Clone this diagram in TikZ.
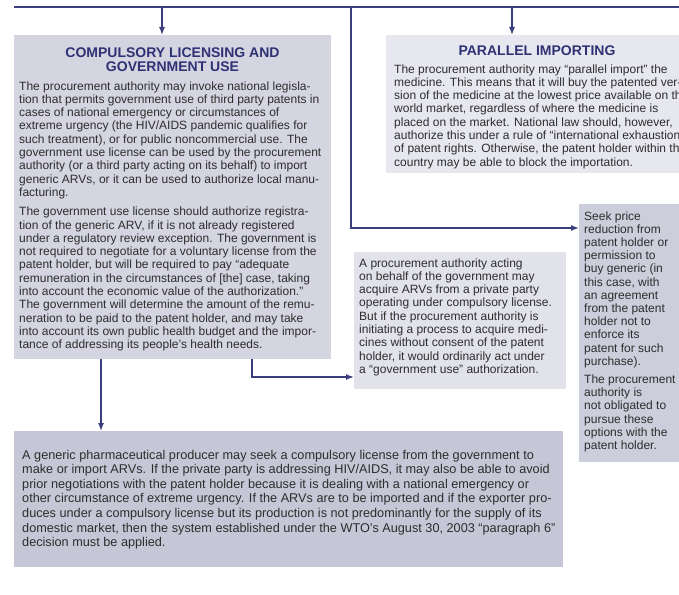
\documentclass[tikz,border=0pt]{standalone}
\usepackage{fontspec}
\setmainfont{Liberation Sans}
\usetikzlibrary{arrows.meta}
\definecolor{navy}{HTML}{3A3E7C}
\definecolor{titlec}{HTML}{2E3274}
\definecolor{bodyc}{HTML}{2D2D2D}
\definecolor{fillA}{HTML}{D4D5E1}
\definecolor{fillB}{HTML}{E7E8EF}
\definecolor{fillC}{HTML}{E1E2EA}
\definecolor{fillD}{HTML}{CDCEDC}
\definecolor{fillE}{HTML}{C6C7D6}
\begin{document}
\begin{tikzpicture}[x=1pt,y=-1pt,
  panel/.style={draw=none, inner sep=0pt, anchor=north west},
  wire/.style={draw=navy, line width=1.4pt},
  arr/.style={wire, -{Latex[length=8pt,width=6pt]}},
  body/.style={inner sep=0pt, anchor=base west, align=left, text=bodyc, font=\fontsize{12}{13.3}\selectfont},
  bigbody/.style={body, font=\fontsize{12.7}{14.6}\selectfont},
  ttl/.style={inner sep=0pt, anchor=base, align=center, text=titlec, font=\fontsize{14}{14}\selectfont\bfseries},
]
\useasboundingbox (0,0) rectangle (679,594);
\fill[white] (0,0) rectangle (679,594);

% panels
\node[panel, fill=fillA, minimum width=317pt, minimum height=324pt] (L) at (14,35) {};
\node[panel, fill=fillB, minimum width=302pt, minimum height=138pt] (PI) at (386,35) {};
\node[panel, fill=fillC, minimum width=212pt, minimum height=137pt] (M) at (354,252) {};
\node[panel, fill=fillD, minimum width=110pt, minimum height=258pt] (R) at (579,204) {};
\node[panel, fill=fillE, minimum width=549pt, minimum height=136pt] (B) at (14,431) {};

% texts (anchor = baseline of the last line)
\node[ttl] (Lt) at (172.5,71) {COMPULSORY LICENSING AND\\GOVERNMENT USE};
\node[body] (Lb) at (19,348.7) {The procurement authority may invoke national legisla-\\
tion that permits government use of third party patents in\\
cases of national emergency or circumstances of\\
extreme urgency (the HIV/AIDS pandemic qualifies for\\
such treatment), or for public noncommercial use. The\\
government use license can be used by the procurement\\
authority (or a third party acting on its behalf) to import\\
generic ARVs, or it can be used to authorize local manu-\\
facturing.\\[6pt]
The government use license should authorize registra-\\
tion of the generic ARV, if it is not already registered\\
under a regulatory review exception. The government is\\
not required to negotiate for a voluntary license from the\\
patent holder, but will be required to pay “adequate\\
remuneration in the circumstances of [the] case, taking\\
into account the economic value of the authorization.”\\
The government will determine the amount of the remu-\\
neration to be paid to the patent holder, and may take\\
into account its own public health budget and the impor-\\
tance of addressing its people’s health needs.};

\node[ttl] (PIt) at (537,56) {PARALLEL IMPORTING};
\node[body] (PIb) at (394,166.1) {The procurement authority may “parallel import” the\\
medicine. This means that it will buy the patented ver-\\
sion of the medicine at the lowest price available on the\\
world market, regardless of where the medicine is\\
placed on the market. National law should, however,\\
authorize this under a rule of “international exhaustion”\\
of patent rights. Otherwise, the patent holder within the\\
country may be able to block the importation.};

\node[body] (Mb) at (359,373.4) {A procurement authority acting\\
on behalf of the government may\\
acquire ARVs from a private party\\
operating under compulsory license.\\
But if the procurement authority is\\
initiating a process to acquire medi-\\
cines without consent of the patent\\
holder, it would ordinarily act under\\
a “government use” authorization.};

\node[body, font=\fontsize{12}{13.2}\selectfont] (Rb) at (584,449.4) {Seek price\\
reduction from\\
patent holder or\\
permission to\\
buy generic (in\\
this case, with\\
an agreement\\
from the patent\\
holder not to\\
enforce its\\
patent for such\\
purchase).\\[5pt]
The procurement\\
authority is\\
not obligated to\\
pursue these\\
options with the\\
patent holder.};

\node[bigbody] (Bb) at (22,546.6) {A generic pharmaceutical producer may seek a compulsory license from the government to\\
make or import ARVs. If the private party is addressing HIV/AIDS, it may also be able to avoid\\
prior negotiations with the patent holder because it is dealing with a national emergency or\\
other circumstance of extreme urgency. If the ARVs are to be imported and if the exporter pro-\\
duces under a compulsory license but its production is not predominantly for the supply of its\\
domestic market, then the system established under the WTO’s August 30, 2003 “paragraph 6”\\
decision must be applied.};

% connectors
\coordinate (tl) at (14,7);
\coordinate (tr) at (690,7);
\draw[wire, line width=1.8pt] (tl) -- (tr);
\coordinate (j1) at (162,7);
\draw[arr] (j1) -- (j1 |- L.north);
\coordinate (j2) at (512,7);
\draw[arr] (j2) -- (j2 |- PI.north);
\coordinate (j3) at (351,7);
\coordinate (k3) at (351,228);
\draw[arr] (j3) -- (k3) -- (k3 -| R.west);
\coordinate (c1) at (252,377);
\draw[arr] (c1 |- L.south) -- (c1) -- (c1 -| M.west);
\coordinate (c2) at (101,400);
\draw[arr] (c2 |- L.south) -- (c2 |- B.north);
\end{tikzpicture}
\end{document}
